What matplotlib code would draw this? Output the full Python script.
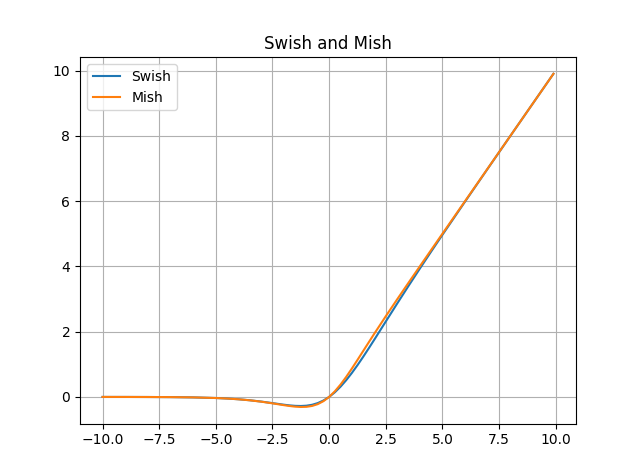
import matplotlib
matplotlib.use("Agg")
import matplotlib.pyplot as plt

x_vals = [-10.0, -9.0, -8.0, -7.0, -6.0, -5.0, -4.5, -4.0, -3.5, -3.0, -2.5,
          -2.0, -1.75, -1.5, -1.25, -1.0, -0.75, -0.5, -0.25, 0.0, 0.25, 0.5,
          0.75, 1.0, 1.25, 1.5, 1.75, 2.0, 2.5, 3.0, 3.5, 4.0, 4.5, 5.0,
          6.0, 7.0, 8.0, 9.0, 9.9]

swish_vals = [-0.00045, -0.00111, -0.00268, -0.00638, -0.01484, -0.03346,
              -0.04946, -0.07194, -0.10259, -0.14228, -0.18965, -0.23841,
              -0.25909, -0.27364, -0.27838, -0.26894, -0.24062, -0.18877,
              -0.10946, 0.0, 0.14054, 0.31123, 0.50938, 0.73106, 0.97162,
              1.22636, 1.49091, 1.76159, 2.31035, 2.85772, 3.39741, 3.92806,
              4.45056, 4.96654, 5.98516, 6.99362, 7.99732, 8.99889, 9.89950]

mish_vals = [-0.00045, -0.00111, -0.00268, -0.00638, -0.01486, -0.03357,
             -0.04972, -0.07259, -0.10409, -0.14565, -0.19681, -0.25250,
             -0.27801, -0.29810, -0.30843, -0.30340, -0.27647, -0.22076,
             -0.12992, 0.0, 0.16954, 0.37510, 0.61003, 0.86510, 1.13184,
             1.40312, 1.67465, 1.94406, 2.47163, 2.98653, 3.49395, 3.99741,
             4.49892, 4.99955, 5.99994, 6.99998, 8.0, 9.0, 9.9]

fig, ax = plt.subplots(figsize=(6.4, 4.76), dpi=100)
ax.plot(x_vals, swish_vals, label="Swish")
ax.plot(x_vals, mish_vals, label="Mish")
ax.set_title("Swish and Mish")
ax.grid(True)
ax.legend(loc="upper left")
fig.savefig("out.png", dpi=100)
